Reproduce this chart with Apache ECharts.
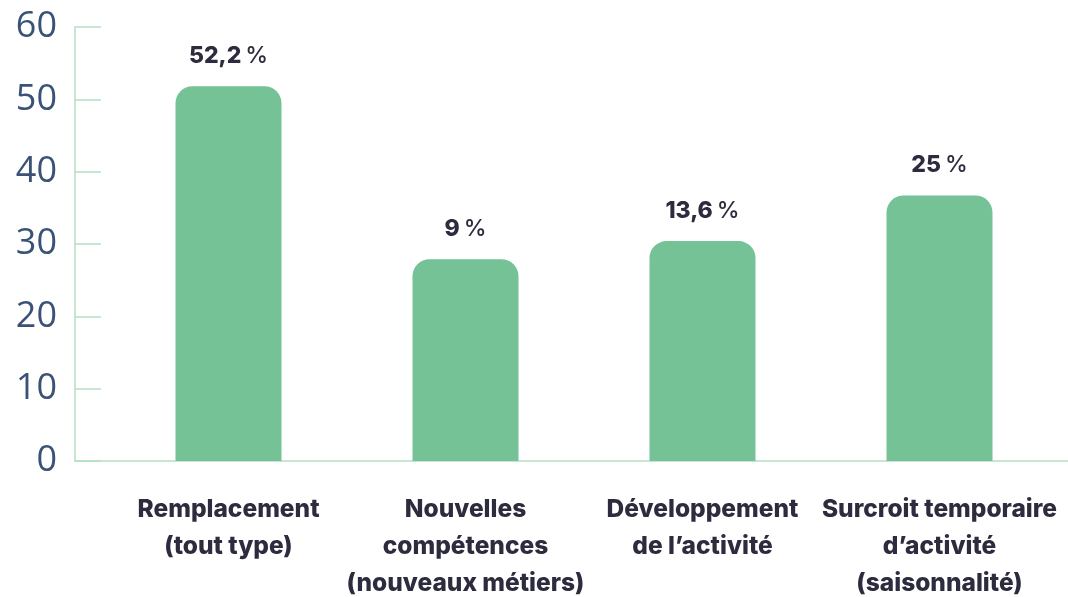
<!DOCTYPE html>
<html>
<head>
<meta charset="utf-8">
<script src="https://cdn.jsdelivr.net/npm/echarts@6/dist/echarts.min.js"></script>
<style>
html,body{margin:0;padding:0;background:#fff;}
#chart{width:1068px;height:597px;}
</style>
</head>
<body>
<div id="chart"></div>
<script>
const categories = [
  "Remplacement\n(tout type)",
  "Nouvelles\ncompétences\n(nouveaux métiers)",
  "Développement\nde l’activité",
  "Surcroit temporaire\nd’activité\n(saisonnalité)"
];
const barHeights = [51.8, 27.9, 30.4, 36.7];
const valueLabels = ["52,2", "9", "13,6", "25"];
const yTicks = { min: 0, max: 60, interval: 10 };

const axisColor = '#b3dfc6';
const textDark = '#2c2c3e';

const chart = echarts.init(document.getElementById('chart'));
chart.setOption({
  animation: false,
  backgroundColor: '#ffffff',
  grid: [
    { left: 75, right: 0, top: 27, bottom: 136, outerBoundsMode: 'none', containLabel: false },
    { left: 110, right: 10, top: 27, bottom: 136, outerBoundsMode: 'none', containLabel: false }
  ],
  xAxis: [
    {
      gridIndex: 0, type: 'value', min: 0, max: 1,
      axisLine: { show: true, lineStyle: { color: axisColor, width: 1.5 } },
      axisTick: { show: false }, axisLabel: { show: false }, splitLine: { show: false }
    },
    {
      gridIndex: 1, type: 'category', data: categories,
      axisLine: { show: false }, axisTick: { show: false },
      axisLabel: {
        interval: 0, margin: 30, color: textDark,
        fontFamily: 'Inter', fontWeight: 800, fontSize: 24.5, lineHeight: 37,
        align: 'center'
      }
    }
  ],
  yAxis: [
    {
      gridIndex: 0, type: 'value', min: yTicks.min, max: yTicks.max, interval: yTicks.interval,
      axisLine: { show: true, lineStyle: { color: axisColor, width: 1.5 } },
      axisTick: { show: true, inside: true, length: 26, lineStyle: { color: axisColor, width: 1.5 } },
      splitLine: { show: false },
      axisLabel: {
        margin: 18, color: '#3a5276', fontFamily: 'Open Sans', fontSize: 36, fontWeight: 400
      }
    },
    {
      gridIndex: 1, type: 'value', min: yTicks.min, max: yTicks.max, interval: yTicks.interval,
      show: false
    }
  ],
  series: [
    {
      type: 'bar', xAxisIndex: 1, yAxisIndex: 1,
      data: barHeights,
      barWidth: 106,
      itemStyle: { color: '#74c295', borderRadius: [17, 17, 0, 0] },
      label: {
        show: true, position: 'top', distance: 19,
        formatter: function (p) { return '{n|' + valueLabels[p.dataIndex] + '}{s| }{p|%}'; },
        rich: {
          n: { fontFamily: 'Inter', fontWeight: 800, fontSize: 23, color: textDark },
          s: { fontFamily: 'Inter', fontSize: 14, color: textDark },
          p: { fontFamily: 'Inter', fontWeight: 500, fontSize: 23, color: textDark }
        }
      }
    }
  ]
});
</script>
</body>
</html>
